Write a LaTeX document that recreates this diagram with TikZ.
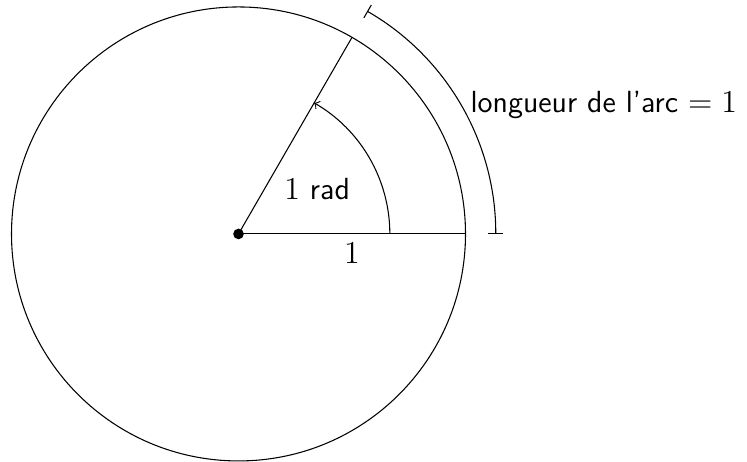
\documentclass[tikz,border=0pt]{standalone}
\usepackage{fontspec}
\begin{document}
\begin{tikzpicture}[font=\sffamily\fontsize{11.5}{14}\selectfont]
\useasboundingbox (-3.152,-3.013) rectangle (6.72,3.092);
\coordinate (O) at (0,0);
\coordinate (A) at (3,0);
\coordinate (B) at (60:3);
\coordinate (P) at (2,0);
\coordinate (Q) at (3.4,0);
\draw (O) circle (3);
\draw (O) -- node[below] (lab1) {$1$} (A);
\draw (O) -- (B);
\draw[->] (P) arc[start angle=0,end angle=60,radius=2];
\draw[|-|] (Q) arc[start angle=0,end angle=60,radius=3.4]
  node[midway,right] (larc) {longueur de l'arc $=1$};
\node (rad) at (30:1.2) {$1$ rad};
\fill (O) circle (2pt);
\end{tikzpicture}
\end{document}
